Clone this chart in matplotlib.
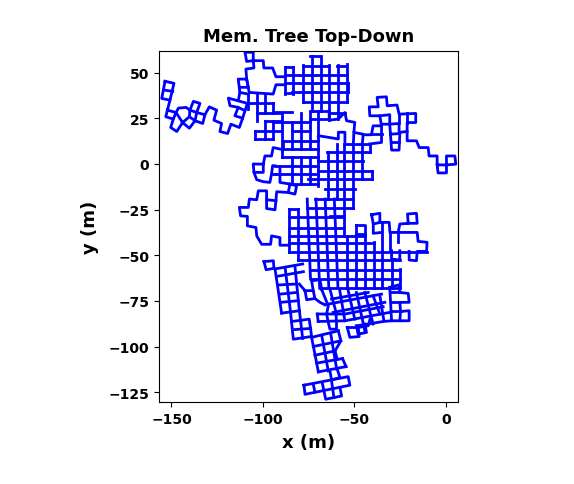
import matplotlib
matplotlib.use("Agg")
import matplotlib.pyplot as plt

# survey tracks, x and y in metres
tail = [
    [(-153.5, 45.3), (-148.6, 44.2), (-150.8, 35), (-155.3, 35.9), (-153.5, 45.3)],
    [(-154.1, 40.5), (-149.3, 39.8)],
    [(-150.8, 35), (-152.2, 29.5), (-153.1, 25.9), (-149, 24.6), (-147.5, 28.2), (-152.2, 29.5)],
    [(-149, 24.6), (-150.4, 20), (-147.1, 17.8), (-143.9, 22.7), (-147.5, 28.2), (-146.2, 30.6),
     (-142, 31), (-139.9, 29.5), (-138, 34.3), (-134.4, 33.2), (-136.2, 28.2), (-131.7, 27),
     (-132.9, 22.2), (-137.1, 23.7), (-140.2, 19.6), (-143.9, 22.7)],
    [(-139.9, 29.5), (-136.2, 28.2), (-137.1, 23.7)],
    [(-143.9, 22.7), (-140.2, 25.9), (-137.1, 23.7)],
    [(-139.9, 29.5), (-140.2, 25.9)],
    [(-131.7, 27), (-129.3, 31.3), (-125.3, 29.5), (-126.8, 24), (-122.6, 22.2), (-123.5, 17.8),
     (-119.3, 16.7), (-117.5, 21.8), (-112.9, 20), (-111.1, 25.1), (-115.3, 26.4), (-113.5, 31),
     (-118, 31.9), (-118.9, 36.1), (-113.5, 34.6), (-112.6, 39.2), (-108, 38.3)],
    [(-113.5, 34.6), (-108.5, 33.2), (-109.8, 29.2), (-113.5, 31)],
    [(-109.8, 29.2), (-111.1, 25.1)],
    [(-112.6, 39.2), (-113.5, 46.5), (-108.9, 46.5), (-108, 42), (-112.6, 42)],
    [(-108.9, 46.5), (-109.3, 52), (-104.9, 52.6), (-105.3, 56.6), (-108.9, 56.2), (-109.8, 61.2),
     (-105.3, 61.2), (-105.3, 56.6), (-99.8, 56.6), (-99.5, 52.6), (-94.7, 52.6), (-92.9, 47.8), (-88, 47.8)],
    [(-108.9, 46.5), (-107.5, 39.2), (-94.4, 38.3), (-92.9, 43.4), (-88, 43.4)],
]

west = [
    [(-89.8, 8), (-94.4, 9), (-95.3, 4.4), (-98.9, 4.4), (-99.8, -0.1), (-105.3, 0), (-104.9, -4.6),
     (-99.8, -4.6), (-99.8, 0)],
    [(-104.9, -4.6), (-103.4, -8.6), (-99.8, -9.7), (-96.2, -10.1), (-95.3, -5.5), (-94.7, -0.9), (-93.4, -1)],
    [(-95.3, -5.5), (-93.4, -5.5)],
    [(-90.7, -1.3), (-90.7, -10.1), (-85.2, -11), (-86.2, -15.6), (-82.5, -16.5), (-81.6, -11.9), (-85.2, -11)],
    [(-86.2, -15.6), (-92.5, -15.2), (-92.9, -20.1), (-93.4, -25.1), (-98, -24.4), (-98, -14.7), (-102.5, -14.7),
     (-103.4, -19.6), (-107.4, -19.2), (-108, -23.8), (-112.9, -23.8), (-112.2, -28.4), (-108.5, -28.7),
     (-108.5, -33.9), (-103.8, -34.8), (-103.4, -39.4), (-100.7, -44), (-95.8, -44), (-95.3, -39.4),
     (-90.7, -40.3), (-90.7, -44.5), (-85.6, -44.5)],
    [(-98, -19.6), (-92.9, -20.1)],
]

east = [
    [(-63.8, 29.2), (-63.8, 24), (-58.9, 24.6), (-55.2, 28.2), (-54.3, 23.7), (-49.8, 22.8), (-50.3, 17.3),
     (-45.2, 16.3), (-45.7, 11)],
    [(-64, 28.2), (-55.2, 28.2)],
    [(-69.7, 15.5), (-58.8, 13.7), (-58.8, 17.4), (-55.2, 17.4), (-55.2, 11)],
    [(-50.3, 17.3), (-50.6, 11)],
    [(-45.2, 16), (-40.7, 16), (-39.8, 20.9), (-35.2, 20.9), (-36.1, 26.4), (-41.6, 26.4), (-41.9, 31.3),
     (-37, 31.3), (-37.6, 36.5), (-32.5, 36.8), (-32.1, 31.9), (-26.7, 32.3), (-25.6, 27.3), (-16.5, 27.7),
     (-16.5, 22.7), (-21.2, 22.7), (-21.2, 12.7), (-16.1, 12.7), (-14.6, 9), (-9.7, 9), (-9.2, 4.4), (-4.8, 4.4),
     (-4.8, -0.5), (0.3, -0.5), (0.3, 4.4), (4.9, 4.4), (5.4, -0.1), (0.3, -0.5), (0.3, -4.9), (-4.3, -4.9), (-4.8, -0.5)],
    [(-36.1, 26.4), (-30.7, 27), (-30.7, 21.8), (-35.2, 21.8)],
    [(-30.7, 21.8), (-25.6, 22.2), (-25.6, 17.3), (-21.2, 17.8)],
    [(-25.6, 27.3), (-25.6, 22.2)],
    [(-21.2, 27.7), (-21.2, 22.7)],
    [(-30.7, 21.8), (-30.3, 16.3), (-25.2, 16.7), (-25.6, 7.6), (-29.7, 7.6), (-30.3, 16.3)],
    [(-30, 11.8), (-25.5, 11.8)],
    [(-35.2, 20.9), (-35.2, 11.8), (-41.5, 11)],
    [(-41.5, 11), (-41.5, 6.4)],
    [(-40.7, 16.4), (-35.2, 16.4)],
]

south_east = [
    [(-40.6, -27.8), (-36.1, -27), (-36.1, -32), (-39.7, -32.9), (-40.6, -27.8)],
    [(-49.2, -33.2), (-44.3, -33.2), (-44.3, -38.4), (-49.2, -38.4), (-49.2, -33.2)],
    [(-39.7, -32.9), (-39.7, -38), (-35.2, -37.5)],
    [(-36.1, -32), (-31, -32), (-30.6, -37.5), (-26.1, -37.5), (-25.2, -32.9), (-20.6, -32.5), (-21, -27.4),
     (-16.1, -27), (-15.7, -32.5), (-20.6, -32.5)],
    [(-26.1, -37.5), (-15.7, -37.5), (-15.2, -42.4), (-10.3, -42.9), (-10.6, -47.9), (-15.7, -47.9), (-16.1, -53),
     (-20.1, -52.6), (-20.1, -47.9)],
    [(-35.2, -32), (-35.2, -47.5)],
    [(-30.6, -37.5), (-30.6, -47.9)],
    [(-26.1, -37.5), (-26.1, -43)],
    [(-29.7, -47.5), (-29.7, -52.1), (-25.2, -52.6), (-25.2, -47.5)],
    [(-25.2, -57.6), (-25.2, -68)],
    [(-30.7, -67.6), (-25.6, -66.2), (-25.2, -70.4), (-20.6, -70.9), (-20.1, -75.8), (-25.2, -75.8), (-24.8, -80.8),
     (-20.1, -80.4), (-20.1, -85.9), (-25.2, -85.9), (-24.8, -80.8)],
    [(-30.7, -67.6), (-29.7, -85.9), (-25.2, -85.9)],
    [(-30.7, -70.4), (-25.2, -70.4)],
    [(-29.7, -75.8), (-25.2, -75.8)],
    [(-29.7, -80.8), (-24.8, -80.8)],
]

south = [
    [(-99.4, -53.5), (-94.3, -53), (-94, -57.2), (-98.3, -57.9), (-99.4, -53.5)],
    [(-93.4, -57.5), (-78.3, -54.8)],
    [(-92.5, -61.6), (-77.9, -59)],
    [(-91.6, -66.3), (-82.5, -65.8)],
    [(-90.7, -71.3), (-81.6, -70.4)],
    [(-90.3, -75.8), (-80.7, -74.9)],
    [(-89.8, -81.7), (-80.1, -80.4)],
    [(-93.4, -57.5), (-89.8, -81.7)],
    [(-87.9, -56.6), (-84.9, -81.3)],
    [(-82.5, -56.1), (-80.1, -80.4)],
    [(-84.9, -81.3), (-83.4, -96), (-73.4, -94.5), (-74.7, -85), (-84.3, -86.3)],
    [(-79.4, -85.9), (-78.3, -95.6)],
    [(-83.9, -90.8), (-73.9, -90.1)],
    [(-80.1, -80.4), (-79.4, -85.9)],
    [(-80.1, -65.8), (-77, -69.4), (-76.1, -74.4), (-71.6, -73.7), (-72.5, -69.4), (-77, -69.4)],
    [(-72.5, -69.4), (-73.4, -64), (-68.8, -63.4), (-67.9, -68.9)],
    [(-71.6, -73.7), (-68.5, -76), (-66.1, -77.1)],
]

rotated = [
    [(-62.5, -74), (-42.5, -70.4)],
    [(-66.1, -77.1), (-35.2, -71.3)],
    [(-61.6, -81.3), (-33.4, -75.8)],
    [(-70.3, -82.2), (-55.2, -82.2), (-34.3, -78.2)],
    [(-69.8, -86.3), (-55.2, -85.9), (-30.7, -81.3)],
    [(-48.9, -88.7), (-34.3, -86.3), (-29.7, -85.9)],
    [(-70.3, -82.2), (-69.8, -86.3)],
    [(-68, -68.5), (-64.3, -77.7), (-65.2, -82.2)],
    [(-63.4, -68.5), (-59.8, -82.2)],
    [(-58, -69.4), (-55.2, -85.9)],
    [(-53.4, -69.4), (-49.8, -85)],
    [(-48.9, -70.4), (-44.3, -91.4)],
    [(-44.3, -70.4), (-39.8, -87.7)],
    [(-39.8, -72.2), (-36.1, -82.2)],
    [(-36.1, -72.2), (-33.9, -85.9)],
    [(-65.2, -82.2), (-64.3, -86.8), (-63.4, -90.5), (-59.8, -90.5), (-59.8, -86.3)],
    [(-60.1, -82.2), (-59.8, -86.3)],
    [(-48.9, -88.7), (-48, -93.2), (-43.4, -92.3), (-44.3, -87.7)],
    [(-53.9, -89.6), (-47.9, -89.6), (-47.4, -94.5), (-52.5, -95), (-53.9, -89.6)],
    [(-47.9, -89.6), (-42.4, -88.6), (-41.5, -85)],
]

# long columns of the lower block lean a little from top to bottom
block = [
    [(-75.8, -19.2), (-74, -63)],
    [(-71, -19.2), (-69, -68)],
    [(-66, -19.2), (-64, -68)],
    [(-61, -19.2), (-59, -68)],
]

tip = [
    [(-73.4, -95), (-58.8, -91.4)],
    [(-72.5, -100), (-57.4, -96.9)],
    [(-71.6, -104.8), (-60.6, -102.4)],
    [(-70.7, -109.1), (-56.5, -106.6)],
    [(-69.7, -113.9), (-54.6, -111)],
    [(-73.4, -95), (-69.7, -113.9)],
    [(-67.9, -93.8), (-64.3, -113.4)],
    [(-63, -92.7), (-59.7, -112.4)],
    [(-58.8, -91.4), (-57.4, -96.9), (-60.6, -102.4), (-59.4, -106.9)],
    [(-56.5, -106.6), (-54.6, -111)],
    [(-63.4, -113.4), (-62.5, -118.3), (-57.9, -117), (-59.4, -112.4)],
    [(-77.6, -121.2), (-53.4, -116.5), (-52.5, -121.2), (-77, -126.2), (-77.6, -121.2)],
    [(-72.5, -120.7), (-71.6, -124.9)],
    [(-67.6, -119.8), (-65.7, -128.9), (-57, -127.1), (-57.9, -122.5)],
    [(-62.5, -118.8), (-61.2, -128)],
]

# straight grid legs: row y with x range, column x with y range
row_y = [59.3, 53, 53.9, 53.9, 48.9, 44.2, 39.2, 38.7, 33.7, 29.2, 24.7,
         33.2, 28.3, 28.2, 23.3, 22.8, 18.2, 18.3, 13.6, 12.8, 8.2, 3.6, -1, -5.5, -11,
         11, 6.4, 1.8, -3.7, -8.3, -13.8, -19.2, -24,
         -24.7, -29.3, -34.8, -39.2, -43.5, -48, -52.7, -58.1, -63, -68, -28.3]
row_x0 = [-74.3, -88, -78.3, -59.4, -88, -88, -84, -88, -78.3, -73.4, -74.3,
          -108.5, -93.4, -103.5, -98.9, -93.4, -104.4, -84.3, -104.4, -88.9, -89.8, -89.8, -93.4, -93.4, -86,
          -55.2, -65.2, -69.7, -69.7, -75.2, -66, -71.6, -75.8,
          -85.6, -85.6, -85.6, -85.6, -85.6, -85.6, -80.7, -74, -74, -68.9, -63.4]
row_x1 = [-69.2, -83.4, -63.8, -54.7, -54.3, -53.3, -53.3, -83.4, -54.3, -63.8, -64,
          -94.4, -84.3, -89.8, -89.8, -74.3, -89.8, -74.3, -94.4, -69.7, -69.7, -69.7, -69.7, -69.7, -69.7,
          -41.5, -41.5, -45.2, -40.6, -40.6, -49.7, -50.6, -50.6,
          -80.7, -55.7, -55.7, -44.3, -39.5, -10.6, -25.2, -25.2, -25.2, -25.2, -55.7]
col_x = [-88, -83.4, -78.3, -73.4, -68.5, -63.8, -58.9, -54.3, -53.3, -108, -103.5, -98.9, -98.9, -94.4, -94.4,
         -104.4, -89.8, -89.8, -88.9, -83.9, -79.2, -74.3, -83.9, -79.2, -74.3, -69.7, -64.6, -59.7, -55.7, -50.6, -45.7, -40.6,
         -85.6, -80.7, -54.3, -49.2, -44.3, -39.5, -34.7, -29.7]
col_y0 = [53, 53, 54, 59.3, 59.3, 54, 54, 55, 44.2, 38.3, 38.3, 38.3, 23.3, 33.2, 23.3,
          18.2, 28.2, 8.2, 12.8, 22.8, 28.2, 29.2, 3.6, 3.6, 3.6, 29.2, 6.4, 11, 11, 11, 11, -3.7,
          -24.7, -24.7, -39.2, -38.4, -38.4, -43, -47.5, -52]
col_y1 = [38.5, 38.5, 33.7, 29, 29, 24, 24.6, 33.7, 39.2, 30, 23.3, 28.2, 13.6, 28.2, 13.6,
          13.6, 7.2, 3.6, 8.2, 8.2, 8.2, 8.2, -11, -11, -11, -12, -19.2, -19.2, -39.2, -24, -8.3, -8.3,
          -48, -52.7, -68, -68, -68, -68, -68, -68]

xticks = [-150, -100, -50, 0]
yticks = [50, 25, 0, -25, -50, -75, -100, -125]

fig = plt.figure(figsize=(5.74, 4.85), dpi=100)
ax = fig.add_axes([159 / 574, 82 / 485, 299 / 574, 351 / 485])

for group in [tail, west, east, south_east, south, rotated, block, tip]:
    for path in group:
        ax.plot([p[0] for p in path], [p[1] for p in path], color='blue', lw=2)
for y, x0, x1 in zip(row_y, row_x0, row_x1):
    ax.plot([x0, x1], [y, y], color='blue', lw=2)
for x, y0, y1 in zip(col_x, col_y0, col_y1):
    ax.plot([x, x], [y0, y1], color='blue', lw=2)

ax.set_xlim(-156.8, 6.6)
ax.set_ylim(-130.4, 61.9)
ax.set_xticks(xticks)
ax.set_yticks(yticks)
ax.tick_params(labelsize=10)
for lab in ax.get_xticklabels() + ax.get_yticklabels():
    lab.set_fontweight('bold')
ax.set_title('Mem. Tree Top-Down', fontsize=13, fontweight='bold', pad=7)
ax.set_xlabel('x (m)', fontsize=13, fontweight='bold', labelpad=5)
ax.set_ylabel('y (m)', fontsize=13, fontweight='bold', labelpad=7)

fig.savefig('out.png', dpi=100)
